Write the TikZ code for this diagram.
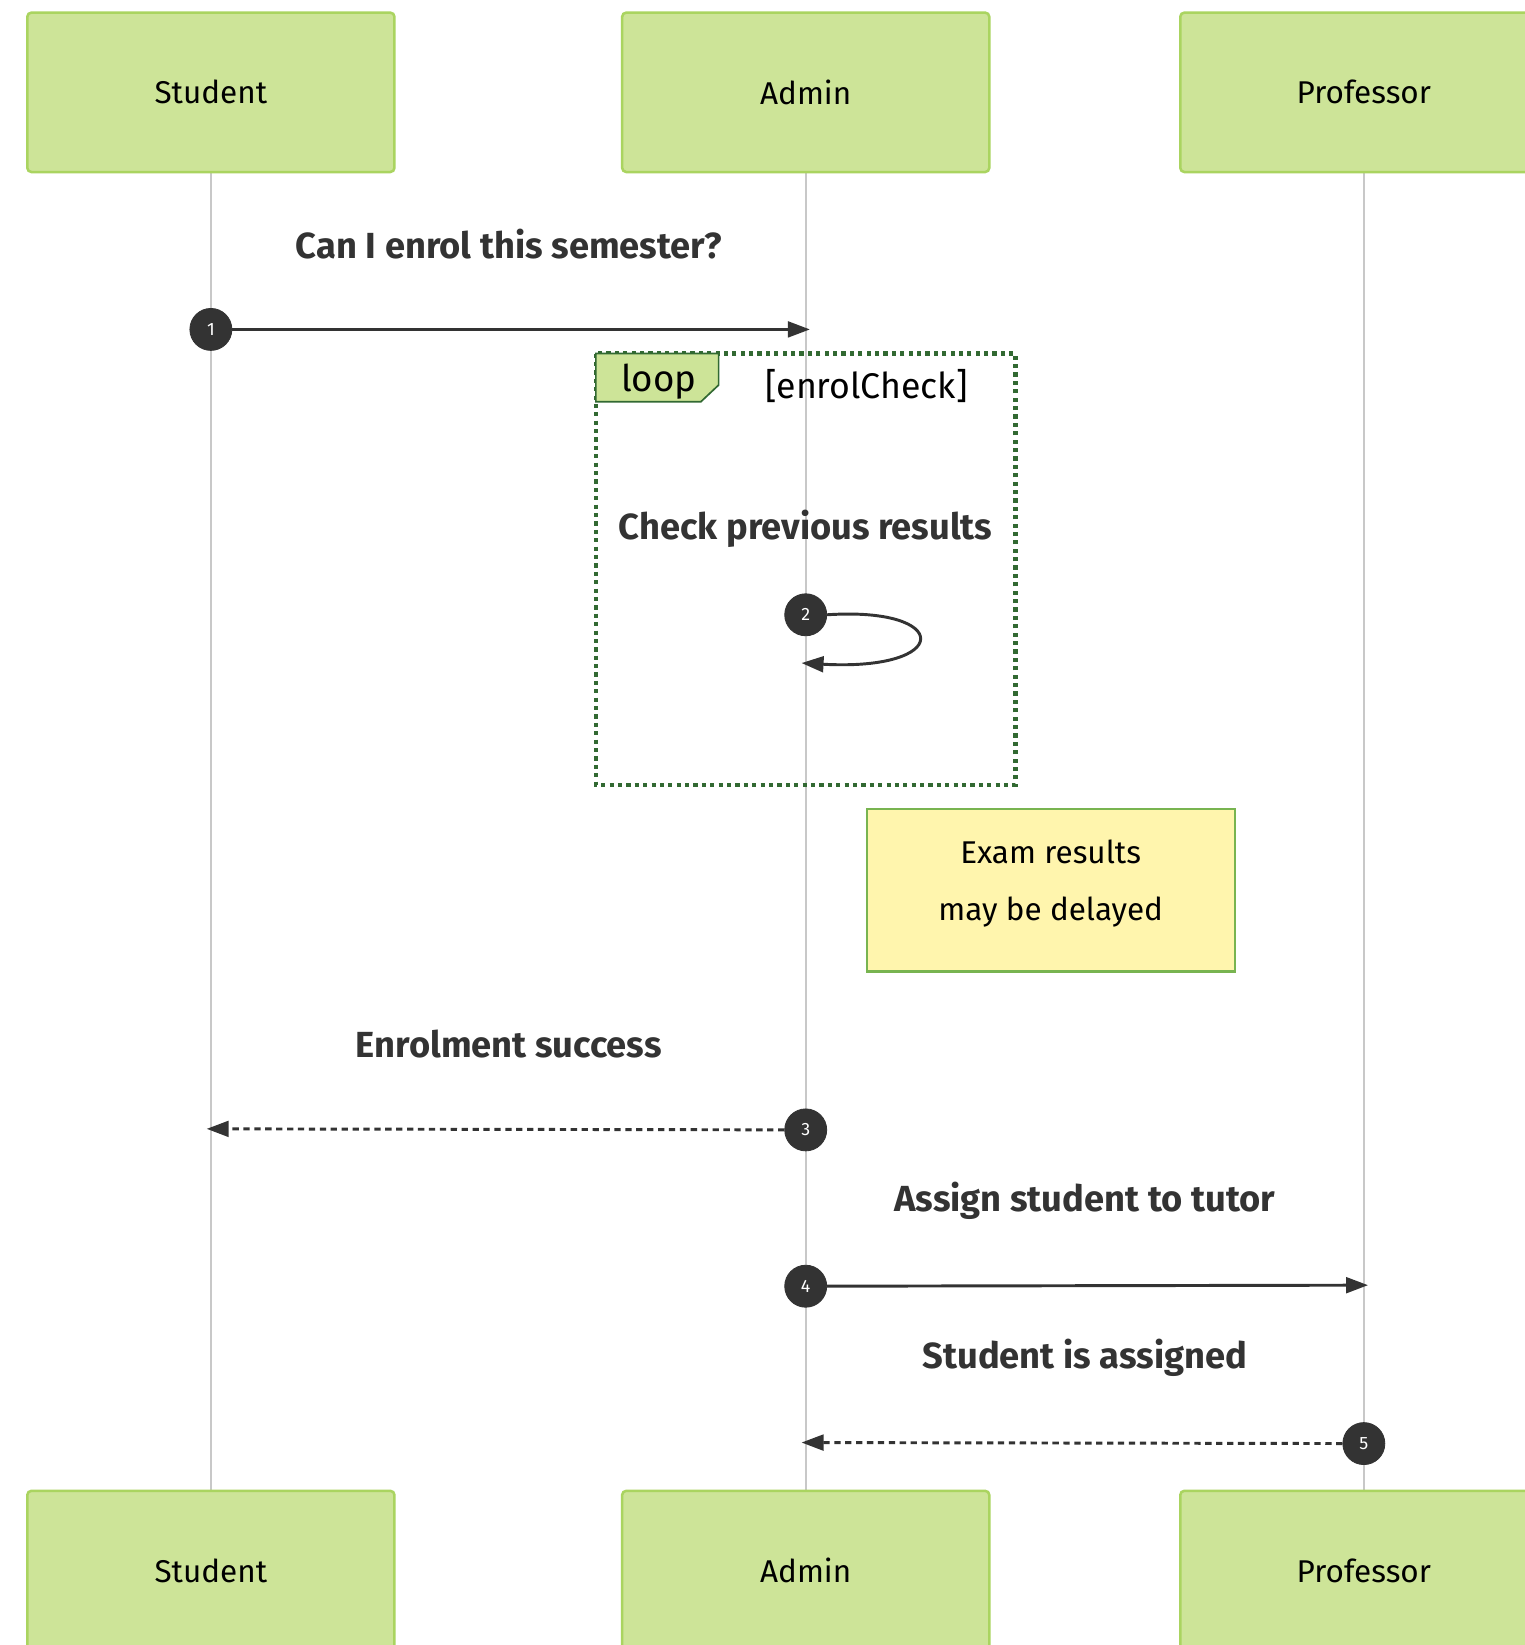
\documentclass[tikz,border=0pt]{standalone}
\usepackage{fontspec}
\setmainfont{Fira Sans}
\usetikzlibrary{arrows.meta}
\definecolor{actfill}{RGB}{205,228,152}
\definecolor{actdraw}{RGB}{170,212,96}
\definecolor{lifec}{RGB}{200,200,200}
\definecolor{msgc}{RGB}{51,51,51}
\definecolor{loopc}{RGB}{50,105,50}
\definecolor{notefill}{RGB}{255,245,173}
\definecolor{notedraw}{RGB}{120,180,80}
\tikzset{
  actor/.style={draw=actdraw, fill=actfill, line width=1.2pt, rounded corners=2pt,
    minimum width=175pt, minimum height=76pt, inner sep=0pt, font=\fontsize{15}{18}\selectfont, text=black},
  life/.style={draw=lifec, line width=0.9pt},
  msglabel/.style={font=\bfseries\fontsize{17.3}{20}\selectfont, text=msgc, inner sep=0pt},
  seqnum/.style={circle, fill=msgc, draw=msgc, minimum size=20pt, inner sep=0pt, text=white,
    font=\fontsize{8.5}{9}\selectfont},
  msg/.style={draw=msgc, line width=1.4pt, -{Triangle[length=10.5pt,width=7.5pt]}},
  msgdash/.style={msg, dash pattern=on 3pt off 2.2pt},
}
\begin{document}
\begin{tikzpicture}[x=0.5pt,y=-0.5pt]
\useasboundingbox (0,0) rectangle (1453,1568);
\fill[white] (0,0) rectangle (1453,1568);
% lifelines
\coordinate (sT) at (201,164); \coordinate (sB) at (201,1421);
\coordinate (aT) at (768,164); \coordinate (aB) at (768,1421);
\coordinate (pT) at (1300,164); \coordinate (pB) at (1300,1421);
\draw[life] (sT) -- (sB);
\draw[life] (aT) -- (aB);
\draw[life] (pT) -- (pB);
% actors
\node[actor] (st) at (201,88) {Student};
\node[actor] (ad) at (768,88) {Admin};
\node[actor] (pr) at (1300,88) {Professor};
\node[actor] (sb) at (201,1497) {Student};
\node[actor] (ab) at (768,1497) {Admin};
\node[actor] (pb) at (1300,1497) {Professor};
% loop frame
\draw[loopc, line width=2pt, dash pattern=on 2pt off 2pt] (568,337) rectangle (968,748);
\draw[loopc, fill=actfill, line width=0.8pt] (568,337) -- (685,337) -- (685,367) -- (668,383) -- (568,383) -- cycle;
\node[font=\fontsize{17.5}{20}\selectfont, inner sep=0pt] (looplbl) at (628,364) {loop};
\node[font=\fontsize{17}{20}\selectfont, inner sep=0pt] (loopcond) at (826,368) {[enrolCheck]};
% message 1
\node[msglabel] (l1) at (485,233) {Can I enrol this semester?};
\node[seqnum] (n1) at (201,314) {1};
\coordinate (e1) at (772,314);
\draw[msg] (n1) -- (e1);
% message 2 (self)
\node[msglabel] (l2) at (768,504) {Check previous results};
\node[seqnum] (n2) at (768,586) {2};
\coordinate (e2) at (764,632);
\draw[msg] (n2.east) .. controls (908,578) and (908,640) .. (e2);
% note
\node[draw=notedraw, fill=notefill, line width=1pt, minimum width=175.5pt, minimum height=77.5pt,
  inner sep=0pt] (note) at (1001.5,848.5) {};
\node[align=center, inner sep=0pt, font=\fontsize{15}{27}\selectfont] (notetext) at (1001.5,842)
  {Exam results\\may be delayed};
% message 3
\node[msglabel] (l3) at (485,995) {Enrolment success};
\node[seqnum] (n3) at (768,1077) {3};
\coordinate (e3) at (197,1076);
\draw[msgdash] (n3) -- (e3);
% message 4
\node[msglabel] (l4) at (1034,1145) {Assign student to tutor};
\node[seqnum] (n4) at (768,1226) {4};
\coordinate (e4) at (1304,1225);
\draw[msg] (n4) -- (e4);
% message 5
\node[msglabel] (l5) at (1034,1294) {Student is assigned};
\node[seqnum] (n5) at (1300,1376) {5};
\coordinate (e5) at (764,1375);
\draw[msgdash] (n5) -- (e5);
\end{tikzpicture}
\end{document}
